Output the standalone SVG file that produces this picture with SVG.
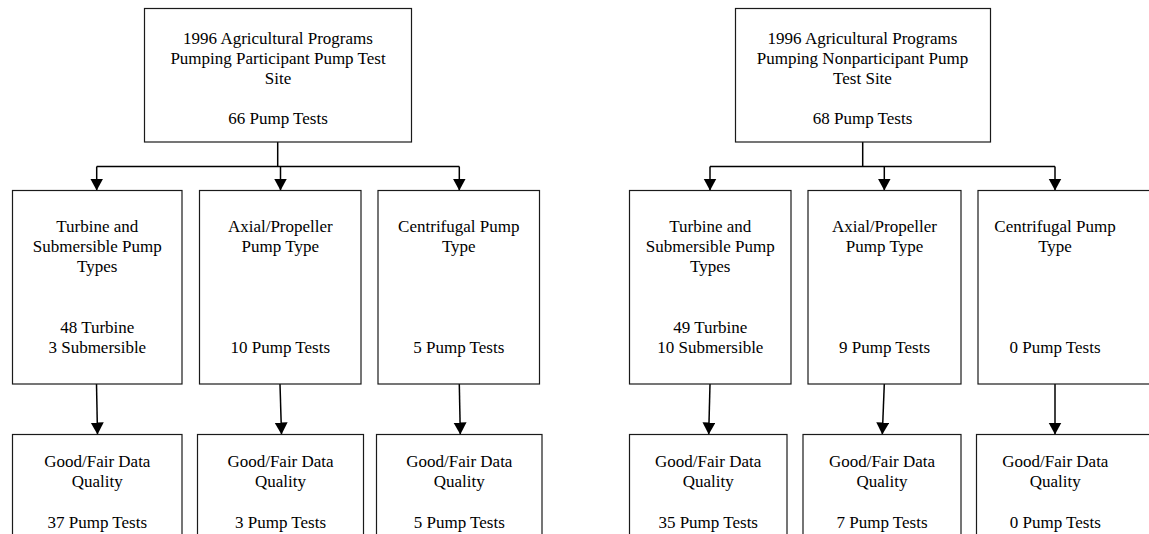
<svg xmlns="http://www.w3.org/2000/svg" width="1149" height="534" viewBox="0 0 1149 534">
<style>
.box{fill:#fff;stroke:#1a1a1a;stroke-width:1.2}
.t{font-family:'Liberation Serif','DejaVu Serif',serif;font-size:17px;fill:#000;text-anchor:middle}
.c{fill:none;stroke:#000;stroke-width:1.5}
.a{fill:none;stroke:#000;stroke-width:1.5;marker-end:url(#ah)}
</style>
<defs>
<marker id="ah" markerUnits="userSpaceOnUse" markerWidth="13" markerHeight="14" refX="12" refY="6.5" orient="auto" viewBox="0 0 13 14">
<path d="M0,0 L12,6.5 L0,13 z" fill="#000"/>
</marker>
</defs>
<rect width="1149" height="534" fill="#fff"/>
<g id="connectors">
<path class="c" d="M277.7,142 V166.5 M96.7,166.5 H459.3"/>
<path class="a" d="M96.7,166.5 V190.5"/>
<path class="a" d="M280.5,166.5 V190.5"/>
<path class="a" d="M459.3,166.5 V190.5"/>
<path class="c" d="M862.7,142 V166.5 M710,166.5 H1055"/>
<path class="a" d="M710,166.5 V190.5"/>
<path class="a" d="M884.3,166.5 V190.5"/>
<path class="a" d="M1055,166.5 V190.5"/>
<path class="a" d="M96.5,384 L97.5,434.5"/>
<path class="a" d="M280,384 L281.5,434.5"/>
<path class="a" d="M459.3,384 L460.3,434.5"/>
<path class="a" d="M710,384 L708.7,434.5"/>
<path class="a" d="M884.3,384 L882.3,434.5"/>
<path class="a" d="M1055,384 L1055,434.5"/>
</g>
<g font-family="Liberation Serif, DejaVu Serif, serif">
<g id="root-left">
<rect class="box" x="144.5" y="8.5" width="267" height="133.5"/>
<text class="t" x="278" y="43.5">1996 Agricultural Programs</text>
<text class="t" x="278" y="63.5">Pumping Participant Pump Test</text>
<text class="t" x="278" y="83.5">Site</text>
<text class="t" x="278" y="123.5">66 Pump Tests</text>
</g>
<g id="root-right">
<rect class="box" x="735.5" y="8.5" width="255" height="133.5"/>
<text class="t" x="862.5" y="43.5">1996 Agricultural Programs</text>
<text class="t" x="862.5" y="63.5">Pumping Nonparticipant Pump</text>
<text class="t" x="862.5" y="83.5">Test Site</text>
<text class="t" x="862.5" y="123.5">68 Pump Tests</text>
</g>
<g id="l-turbine">
<rect class="box" x="12.5" y="190.5" width="169.5" height="193.5"/>
<text class="t" x="97.3" y="231.7">Turbine and</text>
<text class="t" x="97.3" y="252">Submersible Pump</text>
<text class="t" x="97.3" y="272.2">Types</text>
<text class="t" x="97.3" y="332.7">48 Turbine</text>
<text class="t" x="97.3" y="353">3 Submersible</text>
</g>
<g id="l-axial">
<rect class="box" x="199.5" y="190.5" width="161.5" height="193.5"/>
<text class="t" x="280.3" y="231.7">Axial/Propeller</text>
<text class="t" x="280.3" y="252">Pump Type</text>
<text class="t" x="280.3" y="353">10 Pump Tests</text>
</g>
<g id="l-centrifugal">
<rect class="box" x="378" y="190.5" width="161.5" height="193.5"/>
<text class="t" x="458.8" y="231.7">Centrifugal Pump</text>
<text class="t" x="458.8" y="252">Type</text>
<text class="t" x="458.8" y="353">5 Pump Tests</text>
</g>
<g id="r-turbine">
<rect class="box" x="629.5" y="190.5" width="161.5" height="193.5"/>
<text class="t" x="710.3" y="231.7">Turbine and</text>
<text class="t" x="710.3" y="252">Submersible Pump</text>
<text class="t" x="710.3" y="272.2">Types</text>
<text class="t" x="710.3" y="332.7">49 Turbine</text>
<text class="t" x="710.3" y="353">10 Submersible</text>
</g>
<g id="r-axial">
<rect class="box" x="808" y="190.5" width="153" height="193.5"/>
<text class="t" x="884.5" y="231.7">Axial/Propeller</text>
<text class="t" x="884.5" y="252">Pump Type</text>
<text class="t" x="884.5" y="353">9 Pump Tests</text>
</g>
<g id="r-centrifugal">
<rect class="box" x="978" y="190.5" width="190" height="193.5"/>
<text class="t" x="1055" y="231.7">Centrifugal Pump</text>
<text class="t" x="1055" y="252">Type</text>
<text class="t" x="1055" y="353">0 Pump Tests</text>
</g>
<g id="l-q1">
<rect class="box" x="12.5" y="434.5" width="169.5" height="120"/>
<text class="t" x="97.3" y="466.5">Good/Fair Data</text>
<text class="t" x="97.3" y="487">Quality</text>
<text class="t" x="97.3" y="527.5">37 Pump Tests</text>
</g>
<g id="l-q2">
<rect class="box" x="197.5" y="434.5" width="166" height="120"/>
<text class="t" x="280.5" y="466.5">Good/Fair Data</text>
<text class="t" x="280.5" y="487">Quality</text>
<text class="t" x="280.5" y="527.5">3 Pump Tests</text>
</g>
<g id="l-q3">
<rect class="box" x="376.5" y="434.5" width="165.5" height="120"/>
<text class="t" x="459.3" y="466.5">Good/Fair Data</text>
<text class="t" x="459.3" y="487">Quality</text>
<text class="t" x="459.3" y="527.5">5 Pump Tests</text>
</g>
<g id="r-q1">
<rect class="box" x="629.5" y="434.5" width="157.5" height="120"/>
<text class="t" x="708.2" y="466.5">Good/Fair Data</text>
<text class="t" x="708.2" y="487">Quality</text>
<text class="t" x="708.2" y="527.5">35 Pump Tests</text>
</g>
<g id="r-q2">
<rect class="box" x="803" y="434.5" width="158" height="120"/>
<text class="t" x="882" y="466.5">Good/Fair Data</text>
<text class="t" x="882" y="487">Quality</text>
<text class="t" x="882" y="527.5">7 Pump Tests</text>
</g>
<g id="r-q3">
<rect class="box" x="976.5" y="434.5" width="190" height="120"/>
<text class="t" x="1055.3" y="466.5">Good/Fair Data</text>
<text class="t" x="1055.3" y="487">Quality</text>
<text class="t" x="1055.3" y="527.5">0 Pump Tests</text>
</g>
</g>
</svg>
